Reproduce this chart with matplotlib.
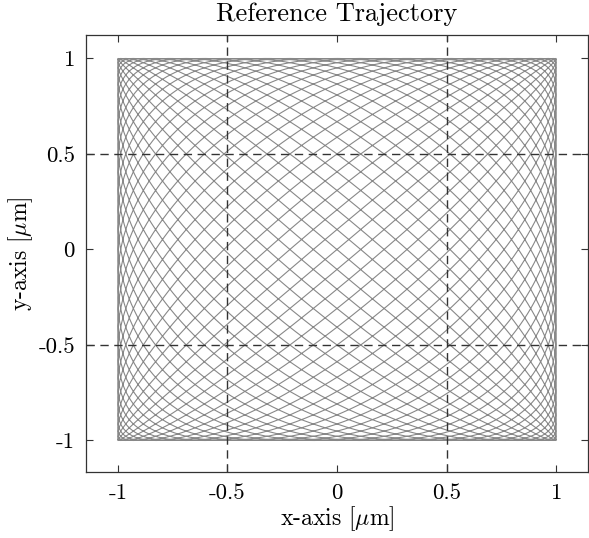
import numpy as np
import matplotlib
matplotlib.use("Agg")
import matplotlib.pyplot as plt

# Lissajous reference trajectory parameters
freq_x = 30
freq_y = 29
phase_x = 0.0
phase_y = 0.0
n_samples = 40000

x_ticks = [-1, -0.5, 0, 0.5, 1]
y_ticks = [-1, -0.5, 0, 0.5, 1]
x_tick_labels = ["-1", "-0.5", "0", "0.5", "1"]
y_tick_labels = ["-1", "-0.5", "0", "0.5", "1"]
guide_x = [-0.5, 0.5]
guide_y = [-0.5, 0.5]

t = np.linspace(0, 2 * np.pi, n_samples)
x = np.sin(freq_x * t + phase_x)
y = np.sin(freq_y * t + phase_y)

plt.rcParams['font.family'] = ['cmr10', 'DejaVu Serif']
plt.rcParams['mathtext.fontset'] = 'cm'
plt.rcParams['axes.unicode_minus'] = False

fig = plt.figure(figsize=(5.89, 5.38), dpi=100)
ax = fig.add_axes([86/589, 66/538, 502/589, (472-34.6)/538])
ax.plot(x, y, color='#888888', lw=0.8)
for gx in guide_x:
    ax.axvline(gx, color='#333333', lw=1.0, ls=(0, (6, 4)))
for gy in guide_y:
    ax.axhline(gy, color='#333333', lw=1.0, ls=(0, (6, 4)))

ax.set_xlim(-1.145, 1.145)
ax.set_ylim(-1.165, 1.125)
ax.set_xticks(x_ticks)
ax.set_xticklabels(x_tick_labels)
ax.set_yticks(y_ticks)
ax.set_yticklabels(y_tick_labels)
ax.tick_params(direction='in', top=True, right=True, length=5, width=0.8,
               labelsize=16.5, pad=8, color='#333333')
for s in ax.spines.values():
    s.set_color('#333333')
    s.set_linewidth(0.9)
ax.set_title('Reference Trajectory', fontsize=19, pad=10)
ax.set_xlabel(r'x-axis [$\mu$m]', fontsize=17, labelpad=1)
ax.set_ylabel(r'y-axis [$\mu$m]', fontsize=17, labelpad=2)

fig.savefig('out.png', dpi=100)
